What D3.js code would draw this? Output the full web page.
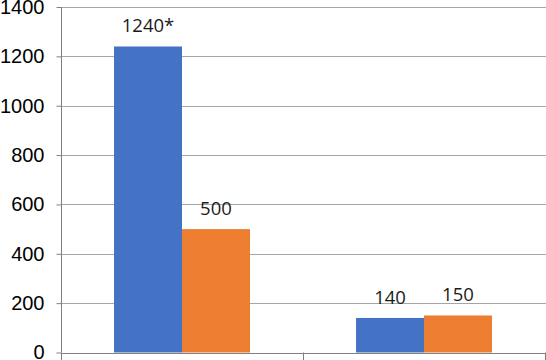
<!DOCTYPE html>
<html>
<head>
<meta charset="utf-8">
<script src="https://cdn.jsdelivr.net/npm/d3@7"></script>
<style>
  html, body { margin: 0; padding: 0; background: #fff; }
  svg { display: block; }
</style>
</head>
<body>
<svg id="chart" width="546" height="360"></svg>
<script>
const categories = ["A", "B"];
const seriesNames = ["Series 1", "Series 2"];
const series1 = [1240, 140];
const series2 = [500, 150];
const labels1 = ["1240*", "140"];
const labels2 = ["500", "150"];
const yTicks = [0, 200, 400, 600, 800, 1000, 1200, 1400];
const colors = ["#4472C4", "#ED7D31"];

const width = 546, height = 360;
const margin = { left: 61, right: 1, top: 7, bottom: 7.5 };

const svg = d3.select("#chart");

const x = d3.scaleBand()
  .domain(categories)
  .range([margin.left, margin.left + 242 * 2])
  .paddingInner(0)
  .paddingOuter(0);

const y = d3.scaleLinear()
  .domain([0, 1400])
  .range([height - margin.bottom, margin.top]);

const inner = d3.scaleBand()
  .domain([0, 1])
  .range([0, x.bandwidth()])
  .paddingOuter(0.78)
  .paddingInner(0);

// gridlines
svg.append("g")
  .selectAll("line")
  .data(yTicks.filter(d => d > 0))
  .join("line")
  .attr("x1", margin.left)
  .attr("x2", width)
  .attr("y1", d => Math.round(y(d)) + 0.5)
  .attr("y2", d => Math.round(y(d)) + 0.5)
  .attr("stroke", "#a6a6a6")
  .attr("stroke-width", 1.2);

// y axis
const yAxis = d3.axisLeft(y).tickValues(yTicks).tickSize(5).tickPadding(12).tickFormat(d3.format("d"));
const gy = svg.append("g")
  .attr("transform", `translate(${margin.left + 0.5},0)`)
  .call(yAxis);
gy.select(".domain").attr("stroke", "#808080").attr("d", `M0,${y(0)}V${y(1400)}`);
gy.selectAll(".tick line").attr("stroke", "#808080");
gy.selectAll(".tick text")
  .attr("font-family", "'Liberation Sans', Arial, sans-serif")
  .attr("font-size", 20)
  .attr("fill", "#000");

// bars
const data = categories.map((c, i) => ({ c, vals: [series1[i], series2[i]], labs: [labels1[i], labels2[i]] }));
const groups = svg.append("g").selectAll("g")
  .data(data)
  .join("g")
  .attr("transform", d => `translate(${x(d.c)},0)`);

groups.selectAll("rect")
  .data(d => d.vals.map((v, j) => ({ v, j })))
  .join("rect")
  .attr("x", d => inner(d.j))
  .attr("width", inner.bandwidth())
  .attr("y", d => y(d.v))
  .attr("height", d => y(0) - y(d.v))
  .attr("fill", d => colors[d.j]);

groups.selectAll("text")
  .data(d => d.vals.map((v, j) => ({ v, j, lab: d.labs[j] })))
  .join("text")
  .attr("x", d => inner(d.j) + inner.bandwidth() / 2)
  .attr("y", d => y(d.v) - 14)
  .attr("text-anchor", "middle")
  .attr("font-family", "'Open Sans', sans-serif")
  .attr("font-size", 18.5)
  .attr("fill", "#1a1a1a")
  .text(d => d.lab);

// x axis
const gx = svg.append("g");
gx.append("line")
  .attr("x1", margin.left).attr("x2", width)
  .attr("y1", Math.round(y(0)) + 0.5).attr("y2", Math.round(y(0)) + 0.5)
  .attr("stroke", "#808080");
gx.selectAll("line.tick")
  .data(categories.concat(["end"]))
  .join("line")
  .attr("class", "tick")
  .attr("x1", (d, i) => margin.left + i * x.bandwidth() + 0.5)
  .attr("x2", (d, i) => margin.left + i * x.bandwidth() + 0.5)
  .attr("y1", y(0))
  .attr("y2", y(0) + 8)
  .attr("stroke", "#808080");
</script>
</body>
</html>
